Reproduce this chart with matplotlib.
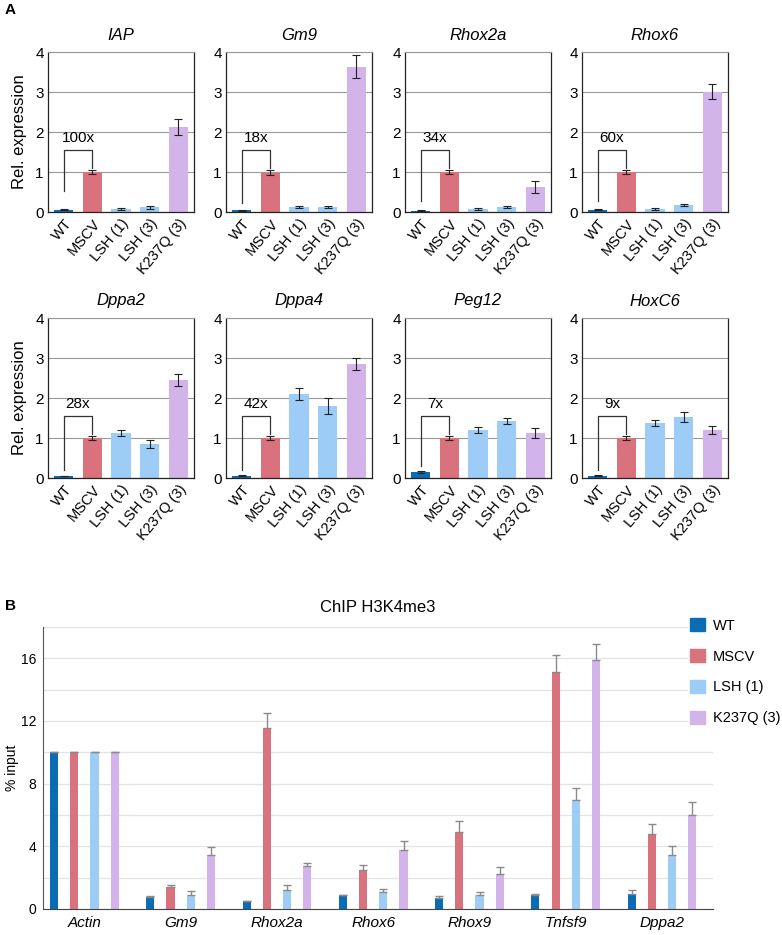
import numpy as np
import matplotlib
matplotlib.use('Agg')
from matplotlib import pyplot as plt
from matplotlib.patches import Patch

plt.rcParams['font.family'] = ['Liberation Sans', 'DejaVu Sans']

# panel A data
samples = ['WT', 'MSCV', 'LSH (1)', 'LSH (3)', 'K237Q (3)']
genes_a = ['IAP', 'Gm9', 'Rhox2a', 'Rhox6', 'Dppa2', 'Dppa4', 'Peg12', 'HoxC6']
expr = {
    'IAP':    [0.06, 1.00, 0.07, 0.12, 2.13],
    'Gm9':    [0.04, 0.98, 0.13, 0.12, 3.63],
    'Rhox2a': [0.03, 1.00, 0.07, 0.12, 0.63],
    'Rhox6':  [0.06, 1.00, 0.07, 0.17, 3.01],
    'Dppa2':  [0.05, 1.00, 1.13, 0.85, 2.45],
    'Dppa4':  [0.06, 1.00, 2.10, 1.80, 2.85],
    'Peg12':  [0.15, 1.00, 1.20, 1.42, 1.12],
    'HoxC6':  [0.06, 1.00, 1.37, 1.52, 1.20],
}
expr_err = {
    'IAP':    [0.02, 0.05, 0.03, 0.04, 0.20],
    'Gm9':    [0.02, 0.06, 0.03, 0.03, 0.29],
    'Rhox2a': [0.01, 0.05, 0.03, 0.03, 0.15],
    'Rhox6':  [0.02, 0.05, 0.03, 0.03, 0.18],
    'Dppa2':  [0.01, 0.04, 0.08, 0.10, 0.15],
    'Dppa4':  [0.02, 0.05, 0.16, 0.19, 0.15],
    'Peg12':  [0.02, 0.04, 0.08, 0.08, 0.12],
    'HoxC6':  [0.02, 0.04, 0.08, 0.12, 0.10],
}
fold = ['100x', '18x', '34x', '60x', '28x', '42x', '7x', '9x']
bracket_low = [0.52, 0.22, 0.27, 0.27, 0.21, 0.21, 0.30, 0.21]

# panel B data
genes_b = ['Actin', 'Gm9', 'Rhox2a', 'Rhox6', 'Rhox9', 'Tnfsf9', 'Dppa2']
series_b = ['WT', 'MSCV', 'LSH (1)', 'K237Q (3)']
chip = {
    'WT':        [10.0, 0.77, 0.49, 0.91, 0.70, 0.91, 0.98],
    'MSCV':      [10.0, 1.40, 11.58, 2.50, 4.90, 15.10, 4.76],
    'LSH (1)':   [10.0, 0.91, 1.23, 1.08, 0.91, 6.97, 3.42],
    'K237Q (3)': [10.0, 3.44, 2.72, 3.78, 2.25, 15.90, 5.97],
}
chip_err = {
    'WT':        [0.0, 0.08, 0.0, 0.0, 0.15, 0.05, 0.25],
    'MSCV':      [0.0, 0.15, 0.92, 0.30, 0.73, 1.10, 0.66],
    'LSH (1)':   [0.0, 0.22, 0.32, 0.19, 0.15, 0.73, 0.58],
    'K237Q (3)': [0.0, 0.51, 0.21, 0.57, 0.43, 1.00, 0.85],
}

col_a = ['#0b6cb6', '#d9727c', '#9dcdf7', '#9dcdf7', '#d3b4ea']
col_b = {'WT': '#0b6cb6', 'MSCV': '#d9727c', 'LSH (1)': '#9dcdf7', 'K237Q (3)': '#d3b4ea'}

W, H = 782, 935
fig = plt.figure(figsize=(W / 100, H / 100), dpi=100)

def px_axes(l, t, r, b):
    return fig.add_axes([l / W, 1 - b / H, (r - l) / W, (b - t) / H])

lefts = [48, 226, 405, 582]
rows = [(52, 212), (318, 478)]
x = np.arange(len(samples))

for i, g in enumerate(genes_a):
    t, b = rows[i // 4]
    l = lefts[i % 4]
    ax = px_axes(l, t, l + 146, b)
    ax.bar(x, expr[g], width=0.68, color=col_a, zorder=2)
    ax.errorbar(x, expr[g], yerr=expr_err[g], fmt='none', ecolor='#222222',
                elinewidth=0.8, capsize=3, capthick=0.8, zorder=3)
    ax.set_xlim(-0.55, 4.55)
    ax.set_ylim(0, 4)
    ax.set_yticks([0, 1, 2, 3, 4])
    ax.yaxis.grid(True, color='#999999', lw=0.8, zorder=0)
    ax.set_axisbelow(True)
    ax.spines['top'].set_color('#999999')
    for s in ['left', 'bottom', 'right']:
        ax.spines[s].set_color('#222222')
        ax.spines[s].set_linewidth(0.9)
    ax.set_xticks(x)
    ax.set_xticklabels(samples, rotation=50, ha='right', rotation_mode='anchor', fontsize=10.5)
    ax.tick_params(axis='x', length=0, pad=3)
    ax.tick_params(axis='y', length=0, labelsize=11, pad=3)
    ax.set_title(g, style='italic', fontsize=12, pad=9)
    if i % 4 == 0:
        ax.set_ylabel('Rel. expression', fontsize=12, labelpad=6)
    # fold change bracket
    top = 1.55
    ax.plot([0, 0, 1, 1], [bracket_low[i], top, top, 1.1], color='#333333', lw=0.9, zorder=4)
    ax.text(0.5, top + 0.12, fold[i], ha='center', va='bottom', fontsize=11)

fig.text(5 / W, 1 - 10 / H, 'A', fontsize=11, fontweight='bold', va='center')
fig.text(5 / W, 1 - 606 / H, 'B', fontsize=11, fontweight='bold', va='center')

# panel B
axb = px_axes(43, 627, 713, 909)
xb = np.arange(len(genes_b))
step = 0.21
for k, s in enumerate(series_b):
    pos = xb + (k - 1.5) * step
    axb.bar(pos, chip[s], width=0.085, color=col_b[s], zorder=2)
    err = np.array(chip_err[s])
    axb.errorbar(pos, chip[s], yerr=[np.zeros_like(err), err], fmt='none',
                 ecolor='#8a8a8a', elinewidth=1.0, capsize=3, capthick=1.0, zorder=3)
axb.set_xlim(-0.43, 6.53)
axb.set_ylim(0, 18)
axb.set_yticks([0, 4, 8, 12, 16])
axb.set_yticks(np.arange(2, 19, 2), minor=True)
axb.yaxis.grid(True, which='both', color='#e3e3e3', lw=0.9, zorder=0)
axb.set_axisbelow(True)
axb.tick_params(axis='y', which='both', length=0, labelsize=10, pad=5)
axb.set_xticks(xb)
axb.set_xticklabels(genes_b, style='italic', fontsize=11)
axb.tick_params(axis='x', length=0, pad=5)
for s in ['top', 'right']:
    axb.spines[s].set_visible(False)
axb.spines['left'].set_color('#555555')
axb.spines['bottom'].set_color('#444444')
axb.set_ylabel('% input', fontsize=10, labelpad=1)
axb.set_title('ChIP H3K4me3', fontsize=12, pad=11)

handles = [Patch(color=col_b[s], label=s) for s in series_b]
leg = fig.legend(handles=handles, loc='upper left', bbox_to_anchor=(688 / W, 1 - 616 / H),
                 frameon=True, fontsize=10.5, handlelength=1.0, handleheight=1.0,
                 handletextpad=0.55, labelspacing=1.12, borderpad=0.15, borderaxespad=0)
leg.get_frame().set_edgecolor('none')
leg.get_frame().set_facecolor('white')
leg.get_frame().set_alpha(1)

plt.savefig('out.png', dpi=100)
